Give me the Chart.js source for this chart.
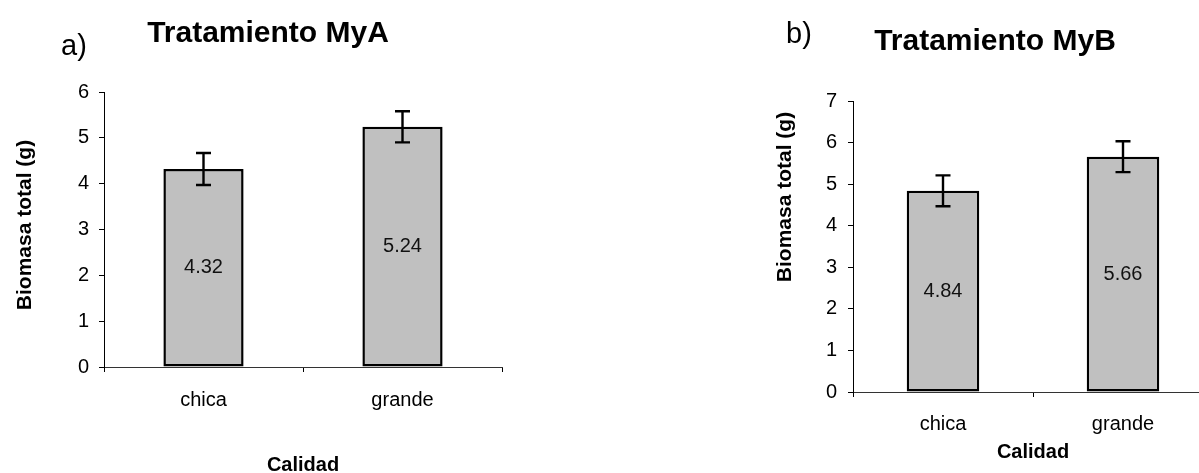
<!DOCTYPE html>
<html>
<head>
<meta charset="utf-8">
<title>Biomasa total por calidad</title>
<script src="https://cdn.jsdelivr.net/npm/chart.js@4/dist/chart.umd.min.js"></script>
<style>
  html, body { margin: 0; padding: 0; background: #fff; overflow: hidden; }
  #stage { position: relative; width: 1199px; height: 473px; overflow: hidden; background: #fff; }
  #stage canvas { position: absolute; top: 0; }
  #chartA { left: 0; }
  #chartB { left: 640px; }
</style>
</head>
<body>
<div id="stage">
  <canvas id="chartA" width="560" height="473"></canvas>
  <canvas id="chartB" width="640" height="473"></canvas>
</div>
<script>
// Categorías de calidad de semilla
const categories = ['chica', 'grande'];

// Tratamiento MyA: biomasa total media (g) y error
const biomasaMyA = [4.32, 5.24];
const errorMyA = [0.35, 0.34];

// Tratamiento MyB: biomasa total media (g) y error
const biomasaMyB = [4.84, 5.66];
const errorMyB = [0.37, 0.37];

// Marcas del eje Y de cada panel
const ticksMyA = [0, 1, 2, 3, 4, 5, 6];
const ticksMyB = [0, 1, 2, 3, 4, 5, 6, 7];

const FONT = "'Liberation Sans', Arial, Helvetica, sans-serif";

// Barras de error (media ± error) dibujadas sobre las barras
const errorBarsPlugin = {
  id: 'errorBars',
  afterDatasetsDraw(chart, args, opts) {
    const errs = opts.errors || [];
    const meta = chart.getDatasetMeta(0);
    const y = chart.scales.y;
    const values = chart.data.datasets[0].data;
    const ctx = chart.ctx;
    ctx.save();
    ctx.strokeStyle = '#000';
    ctx.lineWidth = 2.4;
    meta.data.forEach((bar, i) => {
      const v = values[i], e = errs[i];
      if (e == null) return;
      const top = y.getPixelForValue(v + e);
      const bot = y.getPixelForValue(v - e);
      const half = opts.capHalf || 7.5;
      ctx.beginPath();
      ctx.moveTo(bar.x, top); ctx.lineTo(bar.x, bot);
      ctx.moveTo(bar.x - half, top); ctx.lineTo(bar.x + half, top);
      ctx.moveTo(bar.x - half, bot); ctx.lineTo(bar.x + half, bot);
      ctx.stroke();
    });
    ctx.restore();
  }
};

// Valor de cada barra escrito en su centro
const valueLabelsPlugin = {
  id: 'valueLabels',
  afterDatasetsDraw(chart) {
    const meta = chart.getDatasetMeta(0);
    const values = chart.data.datasets[0].data;
    const ctx = chart.ctx;
    ctx.save();
    ctx.font = '20px ' + FONT;
    ctx.fillStyle = '#111';
    ctx.textAlign = 'center';
    ctx.textBaseline = 'middle';
    meta.data.forEach((bar, i) => {
      ctx.fillText(values[i].toFixed(2), bar.x, (bar.y + bar.base) / 2);
    });
    ctx.restore();
  }
};

// Letra del panel, título y rótulos de los ejes
const panelTextPlugin = {
  id: 'panelText',
  afterDraw(chart, args, o) {
    const ctx = chart.ctx;
    ctx.save();
    ctx.fillStyle = '#000';
    ctx.textBaseline = 'alphabetic';

    ctx.font = '29px ' + FONT;
    ctx.textAlign = 'left';
    ctx.fillText(o.letter.text, o.letter.x, o.letter.y);

    ctx.font = 'bold 30px ' + FONT;
    ctx.textAlign = 'center';
    ctx.fillText(o.title.text, o.title.x, o.title.y);

    ctx.font = 'bold 20px ' + FONT;
    ctx.textBaseline = 'middle';
    ctx.fillText(o.xTitle.text, o.xTitle.x, o.xTitle.y);

    ctx.font = 'bold 21px ' + FONT;
    ctx.translate(o.yTitle.x, o.yTitle.y);
    ctx.rotate(-Math.PI / 2);
    ctx.fillText(o.yTitle.text, 0, 0);
    ctx.restore();
  }
};

function makeChart(id, values, errors, yTicks, cfg) {
  return new Chart(document.getElementById(id), {
    type: 'bar',
    data: {
      labels: categories,
      datasets: [{
        data: values,
        backgroundColor: '#C0C0C0',
        borderColor: '#000',
        borderWidth: 2.5,
        borderSkipped: false,
        categoryPercentage: 1,
        barPercentage: 0.403
      }]
    },
    options: {
      responsive: false,
      animation: false,
      events: [],
      layout: { padding: cfg.padding },
      scales: {
        x: {
          type: 'category',
          offset: true,
          grid: { display: true, offset: true, drawOnChartArea: false, drawTicks: true, tickLength: 5, color: '#000', lineWidth: 1 },
          border: { display: true, color: '#333', width: 1 },
          ticks: { color: '#000', padding: cfg.xPad, font: { family: FONT, size: 20 } },
          afterFit(s) { s.height = cfg.xHeight; }
        },
        y: {
          type: 'linear',
          min: yTicks[0],
          max: yTicks[yTicks.length - 1],
          afterBuildTicks(s) { s.ticks = yTicks.map(v => ({ value: v })); },
          grid: { display: true, drawOnChartArea: false, drawTicks: true, tickLength: 5, color: '#000', lineWidth: 1 },
          border: { display: true, color: '#000', width: 1 },
          ticks: { color: '#000', padding: cfg.yPad, font: { family: FONT, size: 20 } },
          afterFit(s) { s.width = cfg.yWidth; }
        }
      },
      plugins: {
        legend: { display: false },
        tooltip: { enabled: false },
        title: { display: false },
        errorBars: { errors: errors, capHalf: 7.5 },
        panelText: cfg.text
      }
    },
    plugins: [errorBarsPlugin, valueLabelsPlugin, panelTextPlugin]
  });
}

makeChart('chartA', biomasaMyA, errorMyA, ticksMyA, {
  padding: { top: 92, right: 58, bottom: 0, left: 0 },
  yWidth: 104, xHeight: 106, xPad: 16, yPad: 10,
  text: {
    letter: { text: 'a)', x: 61, y: 55 },
    title: { text: 'Tratamiento MyA', x: 268, y: 42 },
    xTitle: { text: 'Calidad', x: 303, y: 465 },
    yTitle: { text: 'Biomasa total (g)', x: 25, y: 225 }
  }
});

makeChart('chartB', biomasaMyB, errorMyB, ticksMyB, {
  padding: { top: 101, right: 67, bottom: 0, left: 0 },
  yWidth: 213, xHeight: 81, xPad: 15, yPad: 11,
  text: {
    letter: { text: 'b)', x: 146, y: 43 },
    title: { text: 'Tratamiento MyB', x: 355, y: 50 },
    xTitle: { text: 'Calidad', x: 393, y: 452 },
    yTitle: { text: 'Biomasa total (g)', x: 145, y: 197 }
  }
});
</script>
</body>
</html>
